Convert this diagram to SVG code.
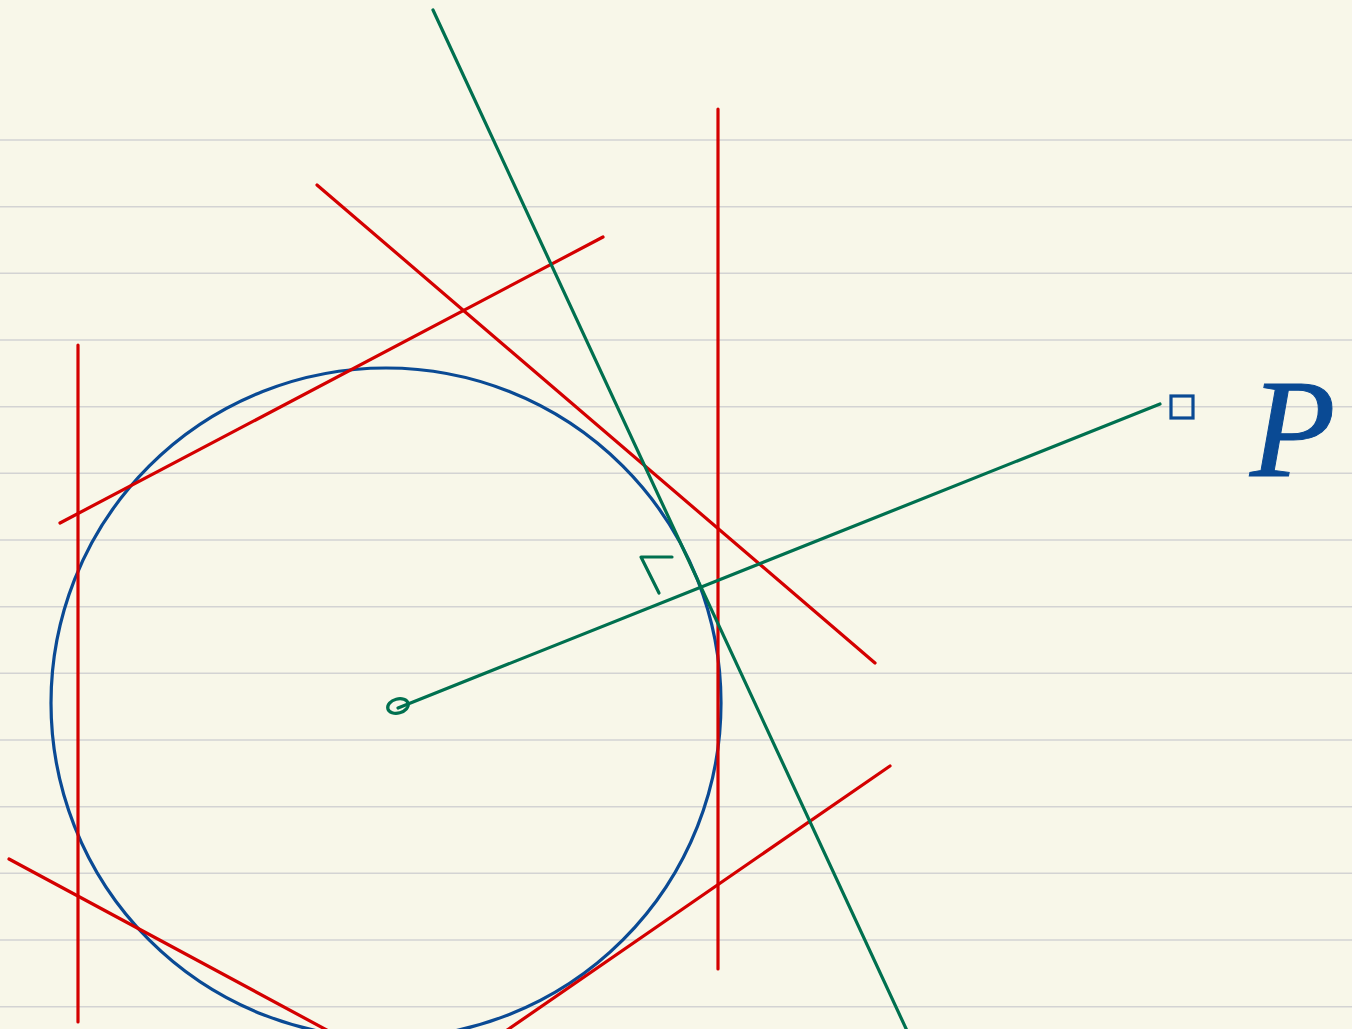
<svg xmlns="http://www.w3.org/2000/svg" width="1352" height="1029" viewBox="0 0 1352 1029">
<style>
.rule{stroke:#d3d3d3;stroke-width:1.5}
.red{stroke:#d40000;stroke-width:3.2;fill:none;stroke-linecap:round}
.green{stroke:#00704f;stroke-width:3.2;fill:none;stroke-linecap:round;stroke-linejoin:round}
.blue{stroke:#0a4a94;stroke-width:3.2;fill:none}
</style>
<rect width="1352" height="1029" fill="#f8f7e9"/>
<g id="paper">
<line class="rule" x1="0" y1="140" x2="1352" y2="140"/>
<line class="rule" x1="0" y1="206.7" x2="1352" y2="206.7"/>
<line class="rule" x1="0" y1="273.3" x2="1352" y2="273.3"/>
<line class="rule" x1="0" y1="340" x2="1352" y2="340"/>
<line class="rule" x1="0" y1="406.7" x2="1352" y2="406.7"/>
<line class="rule" x1="0" y1="473.3" x2="1352" y2="473.3"/>
<line class="rule" x1="0" y1="540" x2="1352" y2="540"/>
<line class="rule" x1="0" y1="606.7" x2="1352" y2="606.7"/>
<line class="rule" x1="0" y1="673.3" x2="1352" y2="673.3"/>
<line class="rule" x1="0" y1="740" x2="1352" y2="740"/>
<line class="rule" x1="0" y1="806.7" x2="1352" y2="806.7"/>
<line class="rule" x1="0" y1="873.3" x2="1352" y2="873.3"/>
<line class="rule" x1="0" y1="940" x2="1352" y2="940"/>
<line class="rule" x1="0" y1="1006.7" x2="1352" y2="1006.7"/>
</g>
<g id="circle">
<circle class="blue" cx="386" cy="703" r="335"/>
</g>
<g id="red-lines">
<line class="red" x1="78" y1="345" x2="78" y2="1022"/>
<line class="red" x1="718" y1="109" x2="718" y2="969"/>
<line class="red" x1="60" y1="523" x2="603" y2="237"/>
<line class="red" x1="317" y1="185" x2="875" y2="663"/>
<line class="red" x1="9" y1="859" x2="336" y2="1035"/>
<line class="red" x1="890" y1="766" x2="500" y2="1035"/>
</g>
<g id="green-lines">
<line class="green" x1="433" y1="10" x2="909" y2="1035"/>
<line class="green" x1="398" y1="708" x2="1160" y2="404"/>
<polyline class="green" points="672,557 641,557 659,593"/>
<ellipse class="green" cx="398" cy="706" rx="10.5" ry="7" transform="rotate(-15 398 706)" stroke-width="4"/>
</g>
<g id="point-P">
<rect class="blue" x="1171" y="396" width="22" height="22"/>
<text x="1250" y="476" font-family="Liberation Serif, serif" font-style="italic" font-size="140" fill="#0a4a94" stroke="#0a4a94" stroke-width="1">P</text>
</g>
</svg>
